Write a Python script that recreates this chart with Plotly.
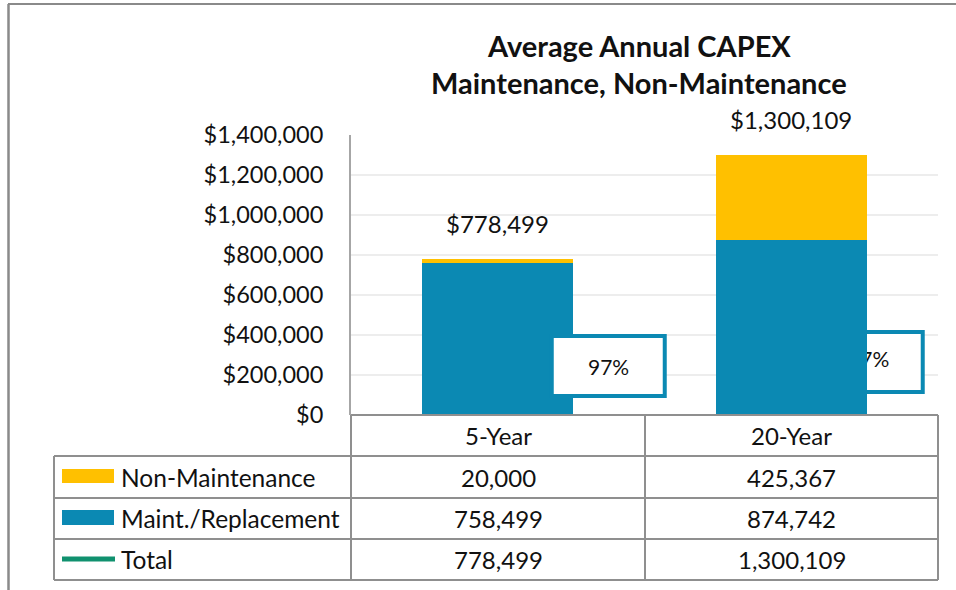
import plotly.graph_objects as go

# ---- data ----
categories = ["5-Year", "20-Year"]
non_maintenance = [20000, 425367]
maint_replacement = [758499, 874742]
totals = [778499, 1300109]
series_names = ["Non-Maintenance", "Maint./Replacement", "Total"]
title_lines = ["Average Annual CAPEX", "Maintenance, Non-Maintenance"]
y_ticks = [0, 200000, 400000, 600000, 800000, 1000000, 1200000, 1400000]
y_tick_labels = [f"${v:,}" for v in y_ticks]

# ---- style ----
W, H = 956, 590
FONT = "Lato"
YELLOW = "#FFC000"
BLUE = "#0B89B3"
GREEN = "#10916F"
GRID = "#EDEDED"
LINE = "#8F8F8F"
TXT = "#111111"

def px(x):
    return x / W

def py(y):
    return 1 - y / H

cat_pos = list(range(len(categories)))
share = [m / t for m, t in zip(maint_replacement, totals)]

fig = go.Figure()

# 20-Year share callout text sits under the bars (base subplot)
fig.add_trace(go.Scatter(
    x=[cat_pos[1] + 0.264], y=[265000], mode="text",
    text=[f"{share[1]:.0%}"], textfont=dict(family=FONT, size=21, color=TXT),
    xaxis="x", yaxis="y", showlegend=False, hoverinfo="skip", cliponaxis=False,
))

fig.add_trace(go.Bar(
    x=cat_pos, y=maint_replacement, name=series_names[1],
    marker=dict(color=BLUE, line=dict(width=0)), xaxis="x", yaxis="y2",
))
fig.add_trace(go.Bar(
    x=cat_pos, y=non_maintenance, name=series_names[0],
    marker=dict(color=YELLOW, line=dict(width=0)), xaxis="x", yaxis="y2",
))

yr = [0, 1400000]
plot_x = [px(351), px(938)]
plot_y = [py(415), py(135)]

fig.update_layout(
    width=W, height=H, autosize=False,
    margin=dict(l=0, r=0, t=0, b=0, pad=0),
    paper_bgcolor="white", plot_bgcolor="white",
    barmode="stack", bargap=0.485,
    showlegend=False,
    font=dict(family=FONT, color=TXT),
    xaxis=dict(domain=plot_x, range=[-0.5, 1.5], showticklabels=False, showgrid=False,
               zeroline=False, showline=False, ticks="", automargin=False),
    yaxis=dict(domain=plot_y, range=yr, tickvals=y_ticks, ticktext=y_tick_labels,
               tickfont=dict(family=FONT, size=23.5, color=TXT),
               showgrid=True, gridcolor=GRID, gridwidth=2,
               zeroline=False, showline=True, linecolor="#A6A6A6", linewidth=2,
               ticks="outside", ticklen=21, tickcolor="rgba(0,0,0,0)", automargin=False),
    yaxis2=dict(domain=plot_y, range=yr, overlaying="y", visible=False),
)

shapes = []
# 20-Year callout box (behind bars)
shapes.append(dict(type="rect", xref="x", yref="y", x0=1.077, x1=1.448,
                   y0=115000, y1=415000, layer="between",
                   line=dict(color=BLUE, width=4), fillcolor="white"))
# 5-Year callout box (in front of bars)
shapes.append(dict(type="rect", xref="x", yref="y", x0=0.184, x1=0.569,
                   y0=95000, y1=395000, layer="above",
                   line=dict(color=BLUE, width=4), fillcolor="white"))

# outer chart border
shapes.append(dict(type="line", xref="paper", yref="paper", x0=px(8), x1=1.0,
                   y0=py(4), y1=py(4), line=dict(color="#8A8A8A", width=2)))
shapes.append(dict(type="line", xref="paper", yref="paper", x0=px(8.5), x1=px(8.5),
                   y0=py(4), y1=0, line=dict(color="#8A8A8A", width=2.5)))

# data table grid
rows_y = [415, 456, 498, 539, 580]
cols_x = [54, 351, 645, 938]
shapes.append(dict(type="line", xref="paper", yref="paper", x0=px(351), x1=px(938),
                   y0=py(415), y1=py(415), line=dict(color=LINE, width=2)))
for yy in rows_y[1:]:
    shapes.append(dict(type="line", xref="paper", yref="paper", x0=px(54), x1=px(938),
                       y0=py(yy), y1=py(yy), line=dict(color=LINE, width=2)))
shapes.append(dict(type="line", xref="paper", yref="paper", x0=px(54), x1=px(54),
                   y0=py(456), y1=py(580), line=dict(color=LINE, width=2)))
for xx in cols_x[1:]:
    shapes.append(dict(type="line", xref="paper", yref="paper", x0=px(xx), x1=px(xx),
                       y0=py(415), y1=py(580), line=dict(color=LINE, width=2)))

# legend keys inside table
shapes.append(dict(type="rect", xref="paper", yref="paper", x0=px(62), x1=px(114),
                   y0=py(483), y1=py(469), line=dict(width=0), fillcolor=YELLOW))
shapes.append(dict(type="rect", xref="paper", yref="paper", x0=px(62), x1=px(114),
                   y0=py(525), y1=py(510), line=dict(width=0), fillcolor=BLUE))
shapes.append(dict(type="path", xref="paper", yref="paper",
                   path=f"M {px(62)} {py(559)} L {px(115)} {py(559)}",
                   line=dict(color=GREEN, width=5)))

annotations = []
# title
for txt, yc in zip(title_lines, [45, 82]):
    annotations.append(dict(text=f"<b>{txt}</b>", xref="paper", yref="paper",
                            x=px(639), y=py(yc), xanchor="center", yanchor="middle",
                            showarrow=False, font=dict(family=FONT, size=29, color=TXT)))

# total labels above bars
for xp, t in zip(cat_pos, totals):
    annotations.append(dict(text=f"${t:,.0f}", xref="x", yref="y", x=xp, y=t,
                            xanchor="center", yanchor="bottom", yshift=19,
                            showarrow=False, font=dict(family=FONT, size=24, color=TXT)))

# 5-Year share callout text
annotations.append(dict(text=f"{share[0]:.0%}", xref="x", yref="y", x=cat_pos[0] + 0.376, y=245000,
                        xanchor="center", yanchor="middle", showarrow=False,
                        font=dict(family=FONT, size=21, color=TXT)))

# table text
col_centers = [498, 791.5]
row_centers = [435.5, 477, 518.5, 559.5]
for c, xc in zip(categories, col_centers):
    annotations.append(dict(text=c, xref="paper", yref="paper", x=px(xc), y=py(row_centers[0]),
                            xanchor="center", yanchor="middle", showarrow=False,
                            font=dict(family=FONT, size=24, color=TXT)))
table_series = [non_maintenance, maint_replacement, totals]
for i, (name, vals) in enumerate(zip(series_names, table_series)):
    yc = row_centers[i + 1]
    annotations.append(dict(text=name, xref="paper", yref="paper", x=px(119), y=py(yc),
                            xanchor="left", yanchor="middle", showarrow=False,
                            font=dict(family=FONT, size=24.5, color=TXT)))
    for v, xc in zip(vals, col_centers):
        annotations.append(dict(text=f"{v:,.0f}", xref="paper", yref="paper", x=px(xc), y=py(yc),
                                xanchor="center", yanchor="middle", showarrow=False,
                                font=dict(family=FONT, size=24, color=TXT)))

fig.update_layout(shapes=shapes, annotations=annotations)
fig.write_html(
    "out.html",
    config={"displayModeBar": False},
    post_script="document.body.style.margin='0';document.body.style.overflow='hidden';",
)
